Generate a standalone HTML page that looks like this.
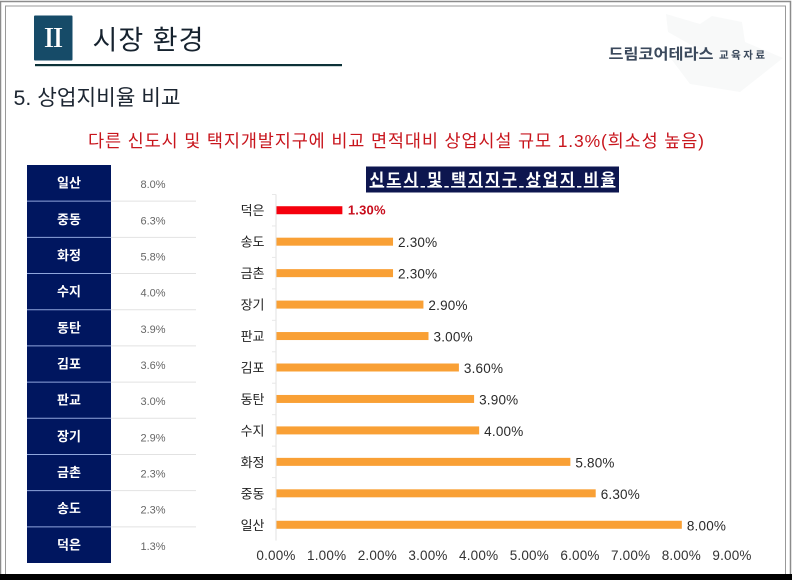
<!DOCTYPE html>
<html lang="ko">
<head>
<meta charset="utf-8">
<title>상업지비율 비교</title>
<style>
html,body{margin:0;padding:0;background:#fff}
body{width:792px;height:580px;overflow:hidden;position:relative;font-family:"Liberation Sans","Noto Sans CJK KR",sans-serif}
svg{position:absolute;left:0;top:0;display:block}
text{font-family:"Liberation Sans","Noto Sans CJK KR",sans-serif}
</style>
</head>
<body>
<svg id="slide" width="792" height="580" viewBox="0 0 792 580" xmlns="http://www.w3.org/2000/svg">
  <defs>
    <filter id="soft" x="-5%" y="-5%" width="110%" height="110%"><feGaussianBlur stdDeviation="0.35"/></filter>
  </defs>
  <rect x="0" y="0" width="792" height="580" fill="#fff"/>
  <path d="M0.5 574V1.5H790.5V574" fill="none" stroke="#8c8c8c" stroke-width="1.5"/>
  <path d="M5.5 574V6H785.5V574" fill="none" stroke="#999" stroke-width="1"/>
  <rect x="0" y="574" width="792" height="6" fill="#000"/>
  <g fill="#f8f9f9">
    <path d="M666 14L700 24L712 16L742 22L745 42L783 58L740 92L690 84L672 60L700 50L668 32Z"/>
  </g>
  <g filter="url(#soft)">
    <rect x="34" y="15.5" width="38.5" height="45" rx="1" fill="#164b68"/>
    <text x="53.5" y="47" font-size="25" font-weight="bold" fill="#fff" text-anchor="middle" style="font-family:'Liberation Serif','Noto Serif CJK SC',serif">Ⅱ</text>
    <text x="92.5" y="49.5" font-size="27" fill="#14212e" textLength="111">시장 환경</text>
    <rect x="35" y="64" width="307" height="2.2" fill="#0e3038"/>
    <text x="608.5" y="59" font-size="15" font-weight="bold" fill="#3a4a5c" textLength="105" lengthAdjust="spacingAndGlyphs">드림코어테라스</text>
    <text x="719" y="58.5" font-size="10.5" font-weight="bold" fill="#3a4a5c" textLength="46">교육자료</text>
    <text x="13.5" y="105" font-size="21.5" fill="#1d2530" textLength="167" lengthAdjust="spacingAndGlyphs">5. 상업지비율 비교</text>
    <text x="88" y="147" font-size="17.5" fill="#c8141e" textLength="616">다른 신도시 및 택지개발지구에 비교 면적대비 상업시설 규모 1.3%(희소성 높음)</text>
    <g id="table"></g>
    <rect x="366" y="166.5" width="253" height="26" fill="#0a1850"/>
    <text x="492.5" y="185" font-size="16" font-weight="bold" fill="#fff" text-anchor="middle" text-decoration="underline" textLength="246">신도시 및 택지지구 상업지 비율</text>
    <g id="chart"></g>
  </g>
</svg>
<script>
const categories = ['덕은','송도','금촌','장기','판교','김포','동탄','수지','화정','중동','일산'];
const seriesValues = [1.3,2.3,2.3,2.9,3.0,3.6,3.9,4.0,5.8,6.3,8.0];
const highlightedCategories = ['덕은'];
const xTickLabels = [0,1,2,3,4,5,6,7,8,9];

const NS = 'http://www.w3.org/2000/svg';
const plot = {left:276, right:732, top:194.5, bottom:540.5};
const xMax = xTickLabels[xTickLabels.length - 1];
const table = {left:27, nameRight:111, valueRight:196, top:165, bottom:563};

function xScale(v){ return plot.left + (v / xMax) * (plot.right - plot.left); }
function yBand(){ return (plot.bottom - plot.top) / categories.length; }
function yScale(i){ return plot.top + yBand() * (i + 0.5); }
function node(tag, attrs, parent, content){
  const el = document.createElementNS(NS, tag);
  for (const k in attrs) el.setAttribute(k, attrs[k]);
  if (content !== undefined) el.textContent = content;
  parent.appendChild(el);
  return el;
}

const chart = document.getElementById('chart');
const axisLine = node('line', {x1:plot.left, x2:plot.left, y1:plot.top, y2:plot.bottom, stroke:'#e0e0e0', 'stroke-width':1}, chart);



categories.forEach((name, i) => {
  const y = yScale(i);
  const isHot = highlightedCategories.includes(name);
  const tick = node('line', {x1:plot.left - 4, x2:plot.left, y1:plot.top + yBand() * i, y2:plot.top + yBand() * i, stroke:'#e8e8e8', 'stroke-width':1}, chart);
  
  
  const label = node('text', {x:plot.left - 11.5, y:y + 5, 'font-size':13, fill:'#222', 'text-anchor':'end'}, chart, name);
  
  
  const bar = node('rect', {x:plot.left + 0.5, y:y - 4, width:Math.max(0, xScale(seriesValues[i]) - plot.left), height:8, fill:isHot ? '#f5000c' : '#f9a034'}, chart);
  
  
  const value = node('text', {x:xScale(seriesValues[i]) + (isHot ? 6 : 5.5), y:y + (isHot ? 4.5 : 5.5), 'font-size':isHot ? 13 : 13.5, 'font-weight':isHot ? 'bold' : 'normal', fill:isHot ? '#c8101c' : '#2a2a2a', 'letter-spacing':0.2}, chart, seriesValues[i].toFixed(2) + '%');
  
  
});

xTickLabels.forEach(t => {
  const label = node('text', {x:xScale(t), y:560, 'font-size':13.5, fill:'#333', 'text-anchor':'middle', 'letter-spacing':0.2}, chart, t.toFixed(2) + '%');
  
  
});

const tableGroup = document.getElementById('table');
const rowHeight = (table.bottom - table.top) / categories.length;
const n = categories.length;
for (let r = 0; r < n; r++) {
  const i = n - 1 - r;
  const top = table.top + rowHeight * r;
  const cell = node('rect', {x:table.left, y:top, width:table.nameRight - table.left, height:rowHeight, fill:'#03135f'}, tableGroup);
  
  
  const nameText = node('text', {x:(table.left + table.nameRight) / 2, y:top + rowHeight / 2 + 4.5, 'font-size':13, 'font-weight':'bold', fill:'#fff', 'text-anchor':'middle'}, tableGroup, categories[i]);
  
  
  const valueText = node('text', {x:(table.nameRight + table.valueRight) / 2 - 0.5, y:top + rowHeight / 2 + 5, 'font-size':11, fill:'#666', 'text-anchor':'middle'}, tableGroup, seriesValues[i].toFixed(1) + '%');
  
  
  if (r > 0) {
    const split = node('line', {x1:table.left, x2:table.nameRight, y1:top, y2:top, stroke:'#8fa6dc', 'stroke-width':1}, tableGroup);
    
    
    const splitR = node('line', {x1:table.nameRight, x2:table.valueRight, y1:top, y2:top, stroke:'#e2e2e2', 'stroke-width':1}, tableGroup);
    
    
  }
}
</script>
</body>
</html>
